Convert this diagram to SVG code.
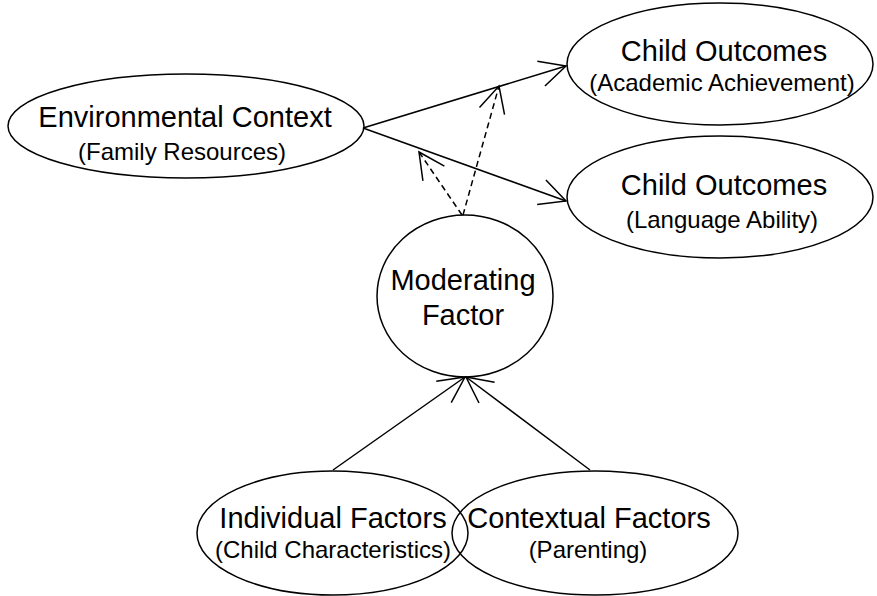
<svg xmlns="http://www.w3.org/2000/svg" width="877" height="596" viewBox="0 0 877 596">
<defs>
<marker id="open" markerUnits="userSpaceOnUse" viewBox="-30 -16 32 32" markerWidth="32" markerHeight="32" refX="0" refY="0" orient="auto">
<path d="M-26,-13 L0,0 L-26,13" fill="none" stroke="#000" stroke-width="1.5"/>
</marker>
</defs>
<style>
.n{fill:none;stroke:#000;stroke-width:1.5}
.t{font-family:"Liberation Sans",Arial,sans-serif;font-size:29px;fill:#000;text-anchor:middle}
.s{font-family:"Liberation Sans",Arial,sans-serif;font-size:24px;fill:#000;text-anchor:middle}
.c{fill:none;stroke:#000;stroke-width:1.5;marker-end:url(#open)}
.d{stroke-dasharray:6 4}
</style>
<rect width="877" height="596" fill="#fff"/>
<g id="env">
<ellipse class="n" cx="186" cy="126" rx="178" ry="52"/>
<text class="t" x="185" y="127">Environmental Context</text>
<text class="s" x="182" y="160">(Family Resources)</text>
</g>
<g id="outcome-academic">
<ellipse class="n" cx="720" cy="64" rx="153" ry="61"/>
<text class="t" x="724" y="61">Child Outcomes</text>
<text class="s" x="722" y="91">(Academic Achievement)</text>
</g>
<g id="outcome-language">
<ellipse class="n" cx="720" cy="197" rx="153" ry="61"/>
<text class="t" x="724" y="195">Child Outcomes</text>
<text class="s" x="722" y="228">(Language Ability)</text>
</g>
<g id="moderating">
<ellipse class="n" cx="465" cy="296" rx="88" ry="81"/>
<text class="t" x="463" y="290">Moderating</text>
<text class="t" x="463" y="325">Factor</text>
</g>
<g id="individual">
<ellipse class="n" cx="332.5" cy="533" rx="135.5" ry="62"/>
<text class="t" x="333" y="528">Individual Factors</text>
<text class="s" x="333" y="558">(Child Characteristics)</text>
</g>
<g id="contextual">
<ellipse class="n" cx="595" cy="533" rx="143" ry="62"/>
<text class="t" x="589" y="528">Contextual Factors</text>
<text class="s" x="588" y="558">(Parenting)</text>
</g>
<g id="connectors">
<line class="c" x1="363" y1="128" x2="566" y2="66"/>
<line class="c" x1="363" y1="128" x2="566" y2="201"/>
<line class="c d" x1="463" y1="215" x2="499" y2="86"/>
<line class="c d" x1="462" y1="215" x2="419" y2="152"/>
<line class="c" x1="333" y1="470" x2="465" y2="377"/>
<line class="c" x1="590" y1="470" x2="466" y2="377"/>
</g>
</svg>
